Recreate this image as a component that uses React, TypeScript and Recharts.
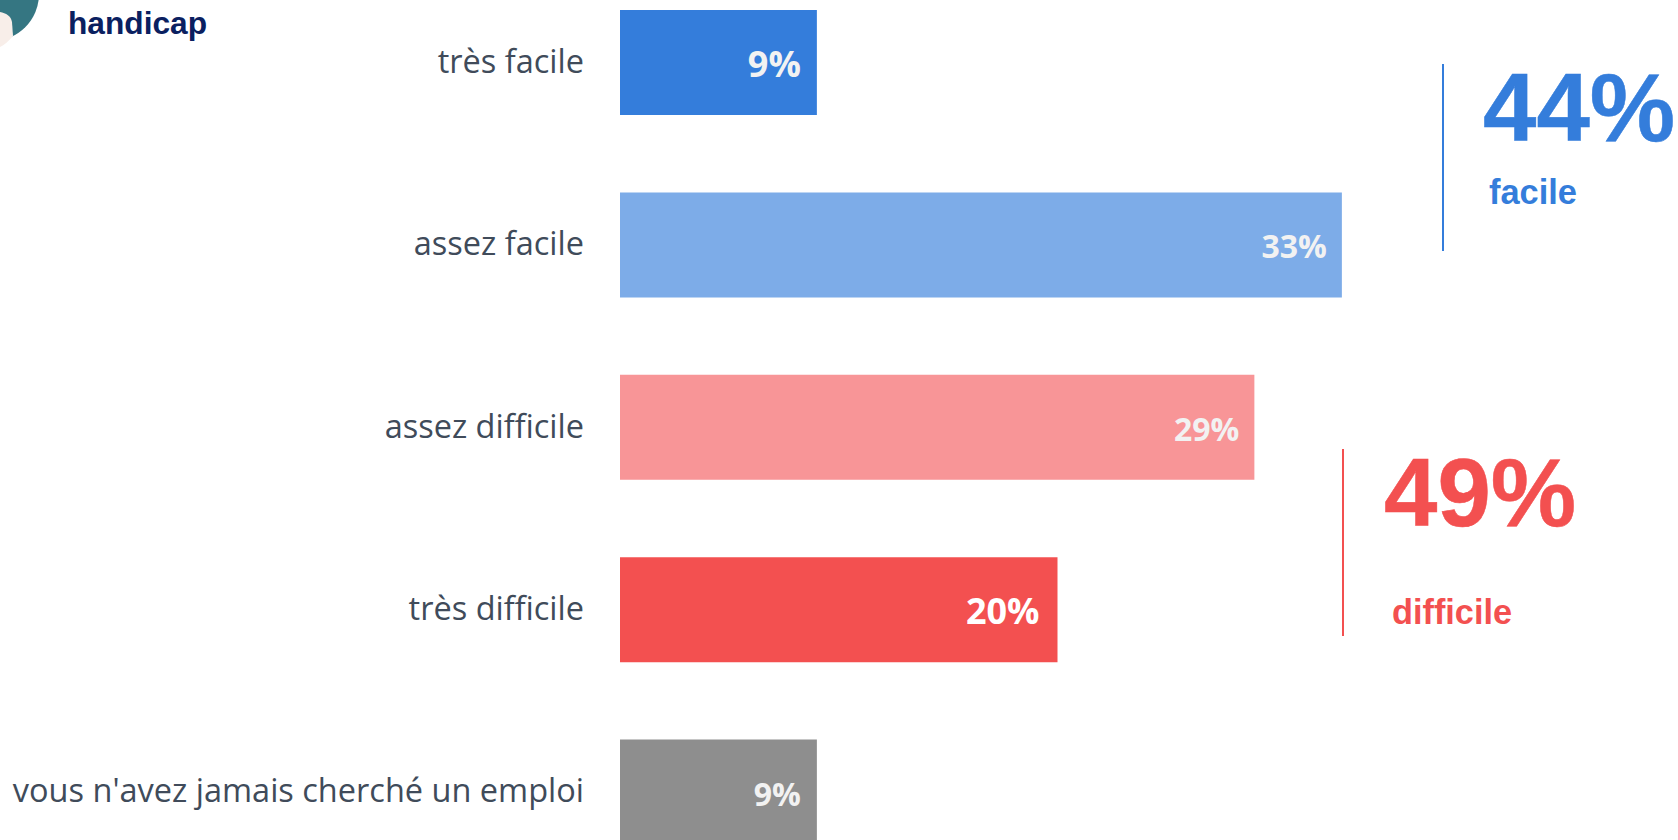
import React from 'react';
import { BarChart, Bar, Cell, XAxis, YAxis, LabelList } from 'recharts';

const categories = ['très facile', 'assez facile', 'assez difficile', 'très difficile', "vous n'avez jamais cherché un emploi"];
const values = [9, 33, 29, 20, 9];
const barColors = ['#347ddb', '#7dace8', '#f89597', '#f35050', '#8e8e8e'];
const labelColors = ['#f2f2f2', '#f2f2f2', '#f2f2f2', '#ffffff', '#f2f2f2'];
const labelSizes = [36, 32, 32, 36, 32];
const labelInsets = [16, 15, 15, 18, 16];

const data = categories.map((name, i) => ({ name, value: values[i] }));

const BLUE = '#347ddb';
const RED = '#f35050';

// value labels sit inside the bar end, each one has its own size in the original
const BarValueLabel = (props: any) => {
  const { x, y, width, height, index, value } = props;
  return (
    <text
      x={x + width - labelInsets[index]}
      y={y + height / 2 + 1}
      textAnchor="end"
      dominantBaseline="central"
      fontFamily="'Open Sans', sans-serif"
      fontWeight={700}
      fontSize={labelSizes[index]}
      fill={labelColors[index]}
    >
      {value}%
    </text>
  );
};

// baseline is where the letters stand, Liberation Sans has an ascent of 0.905em
const headline = (left: number, baseline: number, size: number, color: string, stroke = 0): React.CSSProperties => ({
  position: 'absolute',
  left,
  top: baseline - size * 0.905,
  lineHeight: `${size * 1.149}px`,
  fontFamily: "'Liberation Sans', Arial, sans-serif",
  fontWeight: 700,
  fontSize: size,
  color,
  whiteSpace: 'nowrap',
  WebkitTextStroke: stroke ? `${stroke}px ${color}` : undefined,
});

export default function App() {
  return (
    <div
      style={{
        position: 'absolute',
        left: 0,
        top: 0,
        width: 1678,
        height: 840,
        overflow: 'hidden',
        background: '#fff',
      }}
    >
      {/* the chart is taller than the page, the last bar is cut by the bottom edge */}
      <div style={{ position: 'absolute', left: 0, top: -29 }}>
        <BarChart
          width={1678}
          height={912}
          layout="vertical"
          data={data}
          margin={{ top: 0, right: 183, bottom: 0, left: 0 }}
          barSize={105}
        >
          <XAxis type="number" domain={[0, 40]} hide />
          <YAxis
            type="category"
            dataKey="name"
            width={620}
            interval={0}
            axisLine={false}
            tickLine={false}
            tickMargin={30}
            dy={-1}
            tick={{ fontFamily: "'Open Sans', sans-serif", fontSize: 32.5, fill: '#404b5a' }}
          />
          <Bar dataKey="value" isAnimationActive={false}>
            {data.map((d, i) => (
              <Cell key={d.name} fill={barColors[i]} />
            ))}
            <LabelList dataKey="value" content={BarValueLabel} />
          </Bar>
        </BarChart>
      </div>

      <svg width={1678} height={840} style={{ position: 'absolute', left: 0, top: 0, pointerEvents: 'none' }}>
        <line x1={1443} y1={64} x2={1443} y2={251} stroke={BLUE} strokeWidth={2} />
        <line x1={1343} y1={449} x2={1343} y2={636} stroke={RED} strokeWidth={2} />
        {/* logo corner */}
        <circle cx={-8} cy={-6} r={47} fill="#357682" />
        <path d="M0 12 C6 13 11 16 12 22 L13 36 C9 41 4 45 0 47 Z" fill="#f8eee9" />
      </svg>

      <div style={headline(68, 33.5, 31.7, '#0a2060')}>handicap</div>
      <div style={headline(1483, 140, 96, BLUE, 0.5)}>44%</div>
      <div style={headline(1489, 204, 34.4, BLUE)}>facile</div>
      <div style={headline(1384, 525, 96, RED, 0.5)}>49%</div>
      <div style={headline(1392, 623.7, 34.3, RED)}>difficile</div>
    </div>
  );
}
